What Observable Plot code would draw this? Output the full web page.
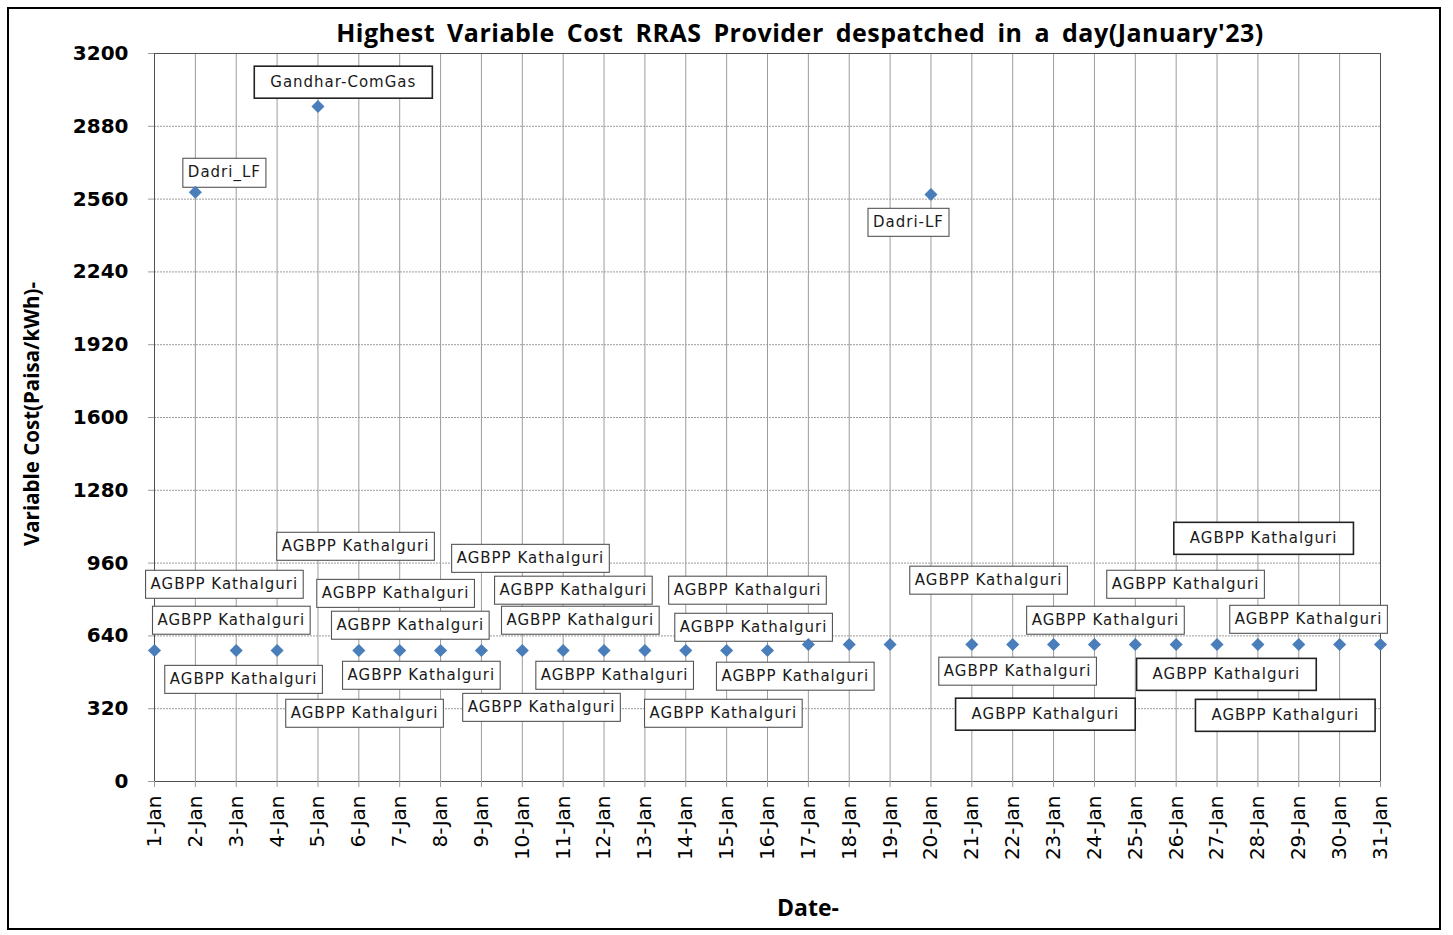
<!DOCTYPE html>
<html>
<head>
<meta charset="utf-8">
<script src="https://cdn.jsdelivr.net/npm/d3@7"></script>
<script src="https://cdn.jsdelivr.net/npm/@observablehq/plot@0.6"></script>
<style>
  body { margin:0; background:#fff; width:1453px; height:935px; position:relative; overflow:hidden; }
  #border { position:absolute; left:7px; top:7px; width:1434px; height:923px; border:2px solid #000; box-sizing:border-box; }
  #title { position:absolute; left:0; width:1600px; top:15px; text-align:center; font:700 25px 'Open Sans', sans-serif; word-spacing:5px; letter-spacing:0.5px; color:#000; }
  #ylabel { position:absolute; left:31px; top:414px; transform:translate(-50%,-50%) rotate(-90deg); white-space:nowrap; font:700 20.5px 'Open Sans', sans-serif; color:#000; }
  #xlabel { position:absolute; left:808px; top:907px; transform:translate(-50%,-50%); font:700 23px 'Open Sans', sans-serif; color:#000; }
  #chart { position:absolute; left:0; top:30px; }
  g.lbl text { letter-spacing:1px; }
</style>
</head>
<body>
<div id="border"></div>
<div id="chart"></div>
<div id="title">Highest Variable Cost RRAS Provider despatched in a day(January'23)</div>
<div id="ylabel">Variable Cost(Paisa/kWh)-</div>
<div id="xlabel">Date-</div>
<script>
// ---- data ----
const days = [1,2,3,4,5,6,7,8,9,10,11,12,13,14,15,16,17,18,19,20,21,22,23,24,25,26,27,28,29,30,31];
const dayLabels = ["1-Jan","2-Jan","3-Jan","4-Jan","5-Jan","6-Jan","7-Jan","8-Jan","9-Jan","10-Jan","11-Jan","12-Jan","13-Jan","14-Jan","15-Jan","16-Jan","17-Jan","18-Jan","19-Jan","20-Jan","21-Jan","22-Jan","23-Jan","24-Jan","25-Jan","26-Jan","27-Jan","28-Jan","29-Jan","30-Jan","31-Jan"];
const costs = [576,2590,576,576,2967,576,576,576,576,576,576,576,576,576,576,576,602,602,602,2580,602,602,602,602,602,602,602,602,602,602,602];
const providers = ["AGBPP Kathalguri","Dadri_LF","AGBPP Kathalguri","AGBPP Kathalguri","Gandhar-ComGas",
  "AGBPP Kathalguri","AGBPP Kathalguri","AGBPP Kathalguri","AGBPP Kathalguri","AGBPP Kathalguri","AGBPP Kathalguri",
  "AGBPP Kathalguri","AGBPP Kathalguri","AGBPP Kathalguri","AGBPP Kathalguri","AGBPP Kathalguri","AGBPP Kathalguri",
  "AGBPP Kathalguri","AGBPP Kathalguri","Dadri-LF","AGBPP Kathalguri","AGBPP Kathalguri","AGBPP Kathalguri",
  "AGBPP Kathalguri","AGBPP Kathalguri","AGBPP Kathalguri","AGBPP Kathalguri","AGBPP Kathalguri","AGBPP Kathalguri",
  "AGBPP Kathalguri","AGBPP Kathalguri"];
const yTicks = [0,320,640,960,1280,1600,1920,2240,2560,2880,3200];
const yTickLabels = ["0","320","640","960","1280","1600","1920","2240","2560","2880","3200"];

// data-label placement (which day each label belongs to, and where it sits in data units)
const labelFor   = [2, 5, 20, 1, 3, 4, 6, 7, 8, 9, 10, 11, 12, 13, 14, 15, 16, 17, 18, 19, 21, 22, 23, 24, 25, 26, 27, 28, 29];
const labelDay   = [2.71, 5.62, 19.45, 2.71, 2.88, 3.18, 5.92, 6.14, 6.90, 7.26, 7.53, 10.20, 10.47, 11.25, 11.42, 12.26, 14.92, 15.51, 15.66, 16.68, 21.41, 22.12, 22.80, 24.27, 26.23, 27.23, 28.14, 28.67, 29.24];
const labelValue = [2677, 3073, 2457, 866, 708, 448, 1033, 299, 826, 686, 466, 980, 325, 840, 708, 466, 299, 840, 677, 462, 884, 484, 295, 708, 866, 470, 1068, 290, 712];
const wideBox    = [false, true, false, false, false, false, false, false, false, false, false, false, false, false, false, false, false, false, false, false, false, false, true, false, false, true, true, true, false];

const points = days.map((d, i) => ({day: d, cost: costs[i], provider: providers[i]}));
const labels = labelFor.map((d, i) => ({text: providers[d - 1], day: labelDay[i], value: labelValue[i], wide: wideBox[i]}));

const plot = Plot.plot({
  width: 1453,
  height: 890,
  marginTop: 23,
  marginLeft: 154,
  marginRight: 73,
  marginBottom: 139,
  style: {fontFamily: "'DejaVu Sans', sans-serif", background: "transparent", color: "#000"},
  x: {domain: [1, 31]},
  y: {domain: [0, 3200]},
  marks: [
    Plot.ruleX(days, {stroke: "#9c9c9c", strokeWidth: 1}),
    Plot.ruleY(yTicks.filter(v => v > 0 && v < 3200), {stroke: "#9c9c9c", strokeDasharray: "2,1", strokeWidth: 1}),
    Plot.ruleY([0], {stroke: "#9c9c9c"}),
    Plot.frame({stroke: "#505050"}),
    Plot.axisY({ticks: yTicks, tickFormat: v => yTickLabels[yTicks.indexOf(v)], tickSize: 6, tickPadding: 20, fontSize: 20, fontWeight: "bold", label: null, stroke: "#9c9c9c"}),
    Plot.axisX({ticks: days, tickFormat: d => dayLabels[d - 1], tickRotate: -90, tickSize: 6, tickPadding: 8, fontSize: 20, label: null, stroke: "#9c9c9c"}),
    Plot.text(labels, {x: "day", y: "value", text: "text", fontSize: 15, fill: "#1a1a1a", className: "lbl"}),
    Plot.dot(points, {x: "day", y: "cost", symbol: "diamond2", r: 5.9, fill: "#4a7ebb", stroke: "none"})
  ]
});

document.getElementById("chart").appendChild(plot);

// draw boxes behind each data label
const g = plot.querySelector("g.lbl");
if (g) {
  const texts = Array.from(g.querySelectorAll("text"));
  texts.forEach((t, i) => {
    const bb = t.getBBox();
    const wide = labels[i] && labels[i].wide;
    const padX = wide ? 16 : 5;
    const padY = wide ? 7 : 5;
    const r = document.createElementNS("http://www.w3.org/2000/svg", "rect");
    r.setAttribute("x", bb.x - padX);
    r.setAttribute("y", bb.y - padY);
    r.setAttribute("width", bb.width + 2 * padX);
    r.setAttribute("height", bb.height + 2 * padY);
    r.setAttribute("fill", "#fff");
    r.setAttribute("stroke", wide ? "#222" : "#555");
    r.setAttribute("stroke-width", wide ? 1.6 : 1.1);
    const tr = t.getAttribute("transform");
    if (tr) r.setAttribute("transform", tr);
    g.insertBefore(r, t);
  });
}
</script>
</body>
</html>
